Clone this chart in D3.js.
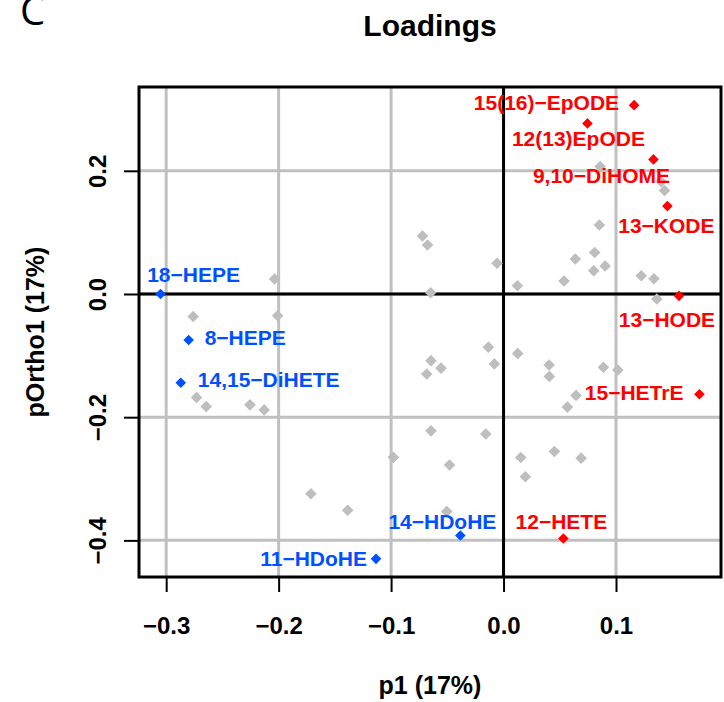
<!DOCTYPE html>
<meta charset="utf-8">
<title>Loadings</title>
<style>
    body {
        margin: 0;
        background: #fff;
    }

    text {
        font-family: "Liberation Sans", Arial, sans-serif;
        font-weight: bold;
    }
</style>
<body>
<script src="https://cdn.jsdelivr.net/npm/d3@7"></script>
<script>
    // unlabelled loadings (grey)
    var greyP1 = [-0.276, -0.2036, -0.2009, -0.273, -0.2644, -0.2255, -0.2128, -0.1713, -0.1386, -0.098,
        -0.0721, -0.0676, -0.0648, -0.0645, -0.0683, -0.0556, -0.0645, -0.048, -0.0505, -0.0158,
        -0.0135, -0.0082, -0.0058, 0.0123, 0.0126, 0.0405, 0.0407, 0.0153, 0.0194, 0.0452,
        0.069, 0.0568, 0.0645, 0.0888, 0.1016, 0.0538, 0.0638, 0.081, 0.0802, 0.0903,
        0.0852, 0.0859, 0.1225, 0.1337, 0.1363, 0.1401, 0.1431];
    var greyPOrtho = [-0.0365, 0.0243, -0.0352, -0.168, -0.1828, -0.180, -0.1882, -0.3244, -0.3512, -0.2652,
        0.0941, 0.0795, 0.0021, -0.1082, -0.1298, -0.1204, -0.2222, -0.2777, -0.3531, -0.2274,
        -0.0863, -0.1135, 0.0498, 0.0135, -0.0965, -0.1152, -0.1338, -0.2655, -0.2968, -0.2558,
        -0.2665, -0.1836, -0.1646, -0.1189, -0.1233, 0.0211, 0.0568, 0.0673, 0.0378, 0.0454,
        0.1119, 0.2068, 0.0297, 0.0248, -0.0081, 0.1825, 0.1679];

    // labelled loadings
    var labNames = ["18−HEPE", "8−HEPE", "14,15−DiHETE", "11−HDoHE", "14−HDoHE", "12−HETE",
        "15−HETrE", "13−HODE", "13−KODE", "9,10−DiHOME", "12(13)EpODE", "15(16)−EpODE"];
    var labP1 = [-0.305, -0.280, -0.287, -0.1134, -0.0384, 0.0532, 0.1742, 0.156, 0.1457, 0.1333, 0.0746, 0.1161];
    var labPOrtho = [0.0, -0.0746, -0.144, -0.430, -0.392, -0.397, -0.1627, -0.003, 0.1427, 0.2185, 0.277, 0.3066];
    var labGroup = ["down", "down", "down", "down", "down", "up", "up", "up", "up", "up", "up", "up"];

    var xTicks = [-0.3, -0.2, -0.1, 0.0, 0.1];
    var yTicks = [-0.4, -0.2, 0.0, 0.2];

    // label placement (pixels from the point), like text(..., pos=)
    var labLayout = {
        "18−HEPE": [33, -19, "middle"],
        "8−HEPE": [16, -2, "start"],
        "14,15−DiHETE": [17, -3, "start"],
        "11−HDoHE": [-9, 0, "end"],
        "14−HDoHE": [-18, -14, "middle"],
        "12−HETE": [-2, -17, "middle"],
        "15−HETrE": [-16, -2, "end"],
        "13−HODE": [-12, 24, "middle"],
        "13−KODE": [-1, 19.5, "middle"],
        "9,10−DiHOME": [-52, 16, "middle"],
        "12(13)EpODE": [-9, 15, "middle"],
        "15(16)−EpODE": [-15, -3, "end"]
    };

    var colours = {up: "#ff0000", down: "#0050ff"};
    var W = 724, H = 702;
    var L = 139, R = 721, T = 87, B = 577;

    // R style axis limits: data range padded by 4%
    function pad(a) {
        var e = d3.extent(a), d = (e[1] - e[0]) * 0.04;
        return [e[0] - d, e[1] + d];
    }

    var x = d3.scaleLinear().domain(pad(greyP1.concat(labP1))).range([L, R]);
    var y = d3.scaleLinear().domain(pad(greyPOrtho.concat(labPOrtho))).range([B, T]);

    var svg = d3.select("body").append("svg")
        .attr("width", W)
        .attr("height", H);

    // grid
    svg.append("g").selectAll("line")
        .data(xTicks)
        .enter().append("line")
        .attr("x1", function (d) { return x(d); })
        .attr("x2", function (d) { return x(d); })
        .attr("y1", T).attr("y2", B)
        .attr("stroke", "#c0c0c0").attr("stroke-width", 3);
    svg.append("g").selectAll("line")
        .data(yTicks)
        .enter().append("line")
        .attr("y1", function (d) { return y(d); })
        .attr("y2", function (d) { return y(d); })
        .attr("x1", L).attr("x2", R)
        .attr("stroke", "#c0c0c0").attr("stroke-width", 3);

    // zero lines
    svg.append("line")
        .attr("x1", x(0)).attr("x2", x(0)).attr("y1", T).attr("y2", B)
        .attr("stroke", "#000").attr("stroke-width", 3);
    svg.append("line")
        .attr("x1", L).attr("x2", R).attr("y1", y(0)).attr("y2", y(0))
        .attr("stroke", "#000").attr("stroke-width", 3);

    function diamond(r) {
        return "M0," + (-r) + "L" + r + ",0L0," + r + "L" + (-r) + ",0Z";
    }

    var grey = greyP1.map(function (d, i) { return [d, greyPOrtho[i]]; });
    svg.append("g").selectAll("path")
        .data(grey)
        .enter().append("path")
        .attr("d", diamond(5.8))
        .attr("fill", "#bebebe")
        .attr("transform", function (d) { return "translate(" + x(d[0]) + "," + y(d[1]) + ")"; });

    var labs = labNames.map(function (n, i) {
        return {name: n, p1: labP1[i], po: labPOrtho[i], group: labGroup[i]};
    });

    svg.append("g").selectAll("path")
        .data(labs)
        .enter().append("path")
        .attr("d", diamond(5.3))
        .attr("fill", function (d) { return colours[d.group]; })
        .attr("transform", function (d) { return "translate(" + x(d.p1) + "," + y(d.po) + ")"; });

    svg.append("g").selectAll("text")
        .data(labs)
        .enter().append("text")
        .attr("x", function (d) { return x(d.p1) + labLayout[d.name][0]; })
        .attr("y", function (d) { return y(d.po) + labLayout[d.name][1] + 7.5; })
        .attr("text-anchor", function (d) { return labLayout[d.name][2]; })
        .attr("font-size", "21px")
        .attr("fill", function (d) { return colours[d.group]; })
        .text(function (d) { return d.name; });

    // box
    svg.append("rect")
        .attr("x", L).attr("y", T)
        .attr("width", R - L).attr("height", B - T)
        .attr("fill", "none")
        .attr("stroke", "#000").attr("stroke-width", 3);

    // axes
    var xAxis = svg.append("g")
        .attr("transform", "translate(0," + B + ")")
        .call(d3.axisBottom(x).tickValues(xTicks).tickSize(15).tickFormat(d3.format(".1f")));
    xAxis.select(".domain").remove();
    xAxis.selectAll("line").attr("stroke-width", 2);
    xAxis.selectAll("text")
        .attr("y", 57).attr("dy", 0)
        .attr("font-size", "24px")
        .attr("font-family", "Liberation Sans, Arial, sans-serif")
        .attr("fill", "#000");

    var yAxis = svg.append("g")
        .attr("transform", "translate(" + L + ",0)")
        .call(d3.axisLeft(y).tickValues(yTicks).tickSize(15).tickFormat(d3.format(".1f")));
    yAxis.select(".domain").remove();
    yAxis.selectAll("line").attr("stroke-width", 2);
    yAxis.selectAll("text")
        .attr("transform", "rotate(-90)")
        .attr("x", 0).attr("y", -33).attr("dy", 0)
        .attr("text-anchor", "middle")
        .attr("font-size", "24px")
        .attr("font-family", "Liberation Sans, Arial, sans-serif")
        .attr("fill", "#000");

    // titles
    svg.append("text")
        .attr("x", (L + R) / 2).attr("y", 36)
        .attr("text-anchor", "middle")
        .attr("font-size", "30px")
        .text("Loadings");

    svg.append("text")
        .attr("x", (L + R) / 2).attr("y", 694)
        .attr("text-anchor", "middle")
        .attr("font-size", "25px")
        .text("p1 (17%)");

    svg.append("text")
        .attr("transform", "translate(44," + (T + B) / 2 + ") rotate(-90)")
        .attr("text-anchor", "middle")
        .attr("font-size", "25px")
        .text("pOrtho1 (17%)");

    svg.append("text")
        .attr("x", 20).attr("y", 25)
        .attr("font-size", "40px")
        .style("font-family", "Open Sans, sans-serif")
        .style("font-weight", "normal")
        .text("C");
</script>
</body>
